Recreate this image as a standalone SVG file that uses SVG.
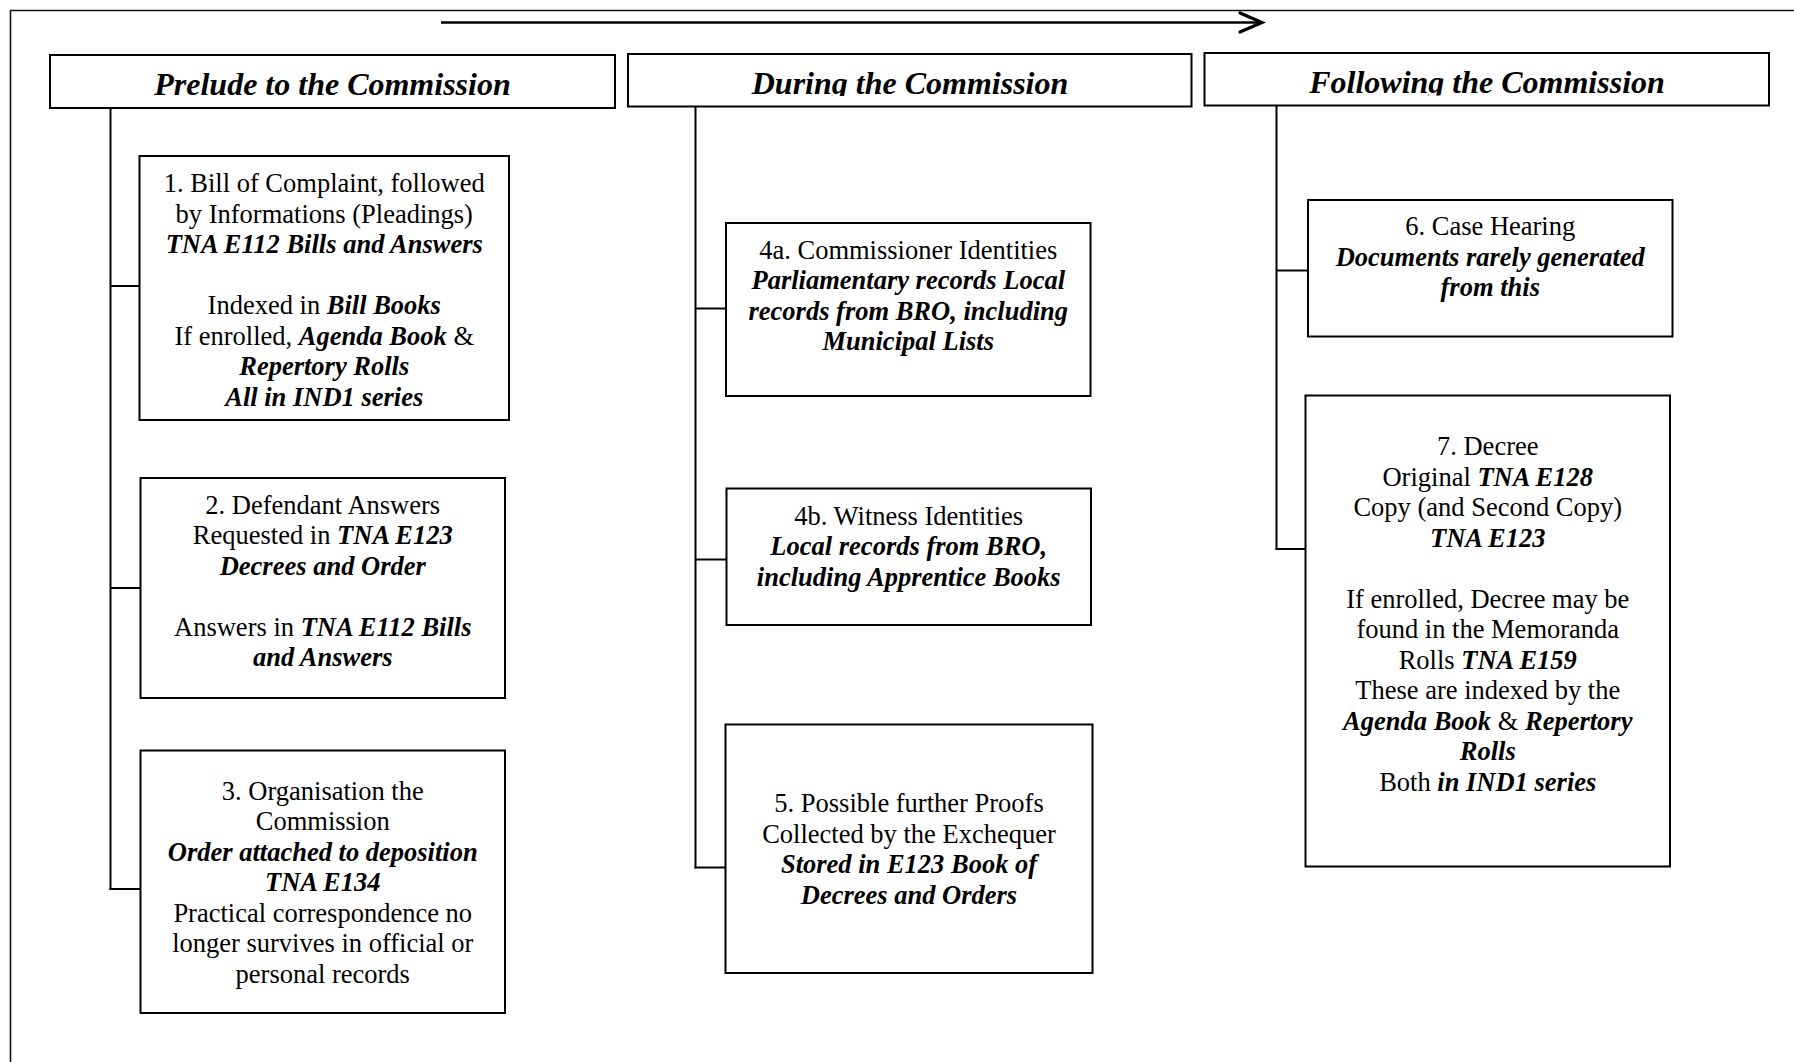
<svg xmlns="http://www.w3.org/2000/svg" width="1794" height="1062" viewBox="0 0 1794 1062">
<style>
.frame{fill:none;stroke:#111;stroke-width:1.6}
.box{fill:#fff;stroke:#000;stroke-width:2}
.con{fill:none;stroke:#000;stroke-width:2}
.arr{fill:none;stroke:#000;stroke-width:2.6}
.ah{fill:none;stroke:#000;stroke-width:3.2;stroke-linecap:round;stroke-linejoin:miter}
text{font-family:"Liberation Serif","Times New Roman",serif;font-size:26.5px;fill:#000;text-anchor:middle}
.hd{font-size:32px;font-weight:bold;font-style:italic}
.bi{font-weight:bold;font-style:italic}
</style>
<defs>
<clipPath id="clipDuring"><rect x="628" y="54" width="564" height="42"/></clipPath>
<clipPath id="clipFollowing"><rect x="1204" y="53" width="565" height="42.5"/></clipPath>
</defs>
<rect width="1794" height="1062" fill="#fff"/>
<path class="frame" d="M10.5,1062 V10.5 H1794"/>

<g id="connectors">
<line class="arr" x1="441" y1="22.5" x2="1260" y2="22.5"/>
<polyline class="ah" points="1240,13 1262,22.5 1240,32"/>
<line class="con" x1="110.5" y1="108" x2="110.5" y2="890"/>
<line class="con" x1="110.5" y1="286" x2="139.5" y2="286"/>
<line class="con" x1="110.5" y1="588" x2="140.5" y2="588"/>
<line class="con" x1="109.5" y1="889" x2="140.5" y2="889"/>
<line class="con" x1="695.5" y1="106.5" x2="695.5" y2="868.5"/>
<line class="con" x1="695.5" y1="308.5" x2="726" y2="308.5"/>
<line class="con" x1="695.5" y1="559.5" x2="726.5" y2="559.5"/>
<line class="con" x1="694.5" y1="867.5" x2="725.5" y2="867.5"/>
<line class="con" x1="1276.5" y1="105.5" x2="1276.5" y2="550"/>
<line class="con" x1="1276.5" y1="270.5" x2="1308" y2="270.5"/>
<line class="con" x1="1275.5" y1="549" x2="1305.5" y2="549"/>
</g>

<g id="header-prelude">
<rect class="box" x="50" y="55" width="565" height="53"/>
<text class="hd" x="332.5" y="95">Prelude to the Commission</text>
</g>
<g id="header-during">
<rect class="box" x="628" y="54" width="563.5" height="52.5"/>
<text class="hd" x="910" y="93.5" clip-path="url(#clipDuring)">During the Commission</text>
</g>
<g id="header-following">
<rect class="box" x="1204.5" y="53" width="564.5" height="52.5"/>
<text class="hd" x="1487" y="93" clip-path="url(#clipFollowing)">Following the Commission</text>
</g>

<g id="node-1">
<rect class="box" x="139.5" y="156" width="369.5" height="264"/>
<text x="324.25" y="192">1. Bill of Complaint, followed</text>
<text x="324.25" y="222.5">by Informations (Pleadings)</text>
<text x="324.25" y="253" class="bi">TNA E112 Bills and Answers</text>
<text x="324.25" y="314">Indexed in <tspan class="bi">Bill Books</tspan></text>
<text x="324.25" y="344.5">If enrolled, <tspan class="bi">Agenda Book</tspan> &amp;</text>
<text x="324.25" y="375" class="bi">Repertory Rolls</text>
<text x="324.25" y="405.5" class="bi">All in IND1 series</text>
</g>

<g id="node-2">
<rect class="box" x="140.5" y="478" width="364.5" height="220"/>
<text x="322.75" y="513.5">2. Defendant Answers</text>
<text x="322.75" y="544">Requested in <tspan class="bi">TNA E123</tspan></text>
<text x="322.75" y="574.5" class="bi">Decrees and Order</text>
<text x="322.75" y="635.5">Answers in <tspan class="bi">TNA E112 Bills</tspan></text>
<text x="322.75" y="666" class="bi">and Answers</text>
</g>

<g id="node-3">
<rect class="box" x="140.5" y="750.5" width="364.5" height="262.5"/>
<text x="322.75" y="799.5">3. Organisation the</text>
<text x="322.75" y="830">Commission</text>
<text x="322.75" y="860.5" class="bi">Order attached to deposition</text>
<text x="322.75" y="891" class="bi">TNA E134</text>
<text x="322.75" y="921.5">Practical correspondence no</text>
<text x="322.75" y="952">longer survives in official or</text>
<text x="322.75" y="982.5">personal records</text>
</g>

<g id="node-4a">
<rect class="box" x="726" y="223" width="364.5" height="173"/>
<text x="908.25" y="258.5">4a. Commissioner Identities</text>
<text x="908.25" y="289" class="bi">Parliamentary records Local</text>
<text x="908.25" y="319.5" class="bi">records from BRO, including</text>
<text x="908.25" y="350" class="bi">Municipal Lists</text>
</g>

<g id="node-4b">
<rect class="box" x="726.5" y="488.5" width="364.5" height="136.5"/>
<text x="908.75" y="524.5">4b. Witness Identities</text>
<text x="908.75" y="555" class="bi">Local records from BRO,</text>
<text x="908.75" y="585.5" class="bi">including Apprentice Books</text>
</g>

<g id="node-5">
<rect class="box" x="725.5" y="724.5" width="367" height="248.5"/>
<text x="909" y="812">5. Possible further Proofs</text>
<text x="909" y="842.5">Collected by the Exchequer</text>
<text x="909" y="873" class="bi">Stored in E123 Book of</text>
<text x="909" y="903.5" class="bi">Decrees and Orders</text>
</g>

<g id="node-6">
<rect class="box" x="1308" y="200" width="364.5" height="136.5"/>
<text x="1490.25" y="235">6. Case Hearing</text>
<text x="1490.25" y="265.5" class="bi">Documents rarely generated</text>
<text x="1490.25" y="296" class="bi">from this</text>
</g>

<g id="node-7">
<rect class="box" x="1305.5" y="395.5" width="364.5" height="471"/>
<text x="1487.75" y="455">7. Decree</text>
<text x="1487.75" y="485.5">Original <tspan class="bi">TNA E128</tspan></text>
<text x="1487.75" y="516">Copy (and Second Copy)</text>
<text x="1487.75" y="546.5" class="bi">TNA E123</text>
<text x="1487.75" y="607.5">If enrolled, Decree may be</text>
<text x="1487.75" y="638">found in the Memoranda</text>
<text x="1487.75" y="668.5">Rolls <tspan class="bi">TNA E159</tspan></text>
<text x="1487.75" y="699">These are indexed by the</text>
<text x="1487.75" y="729.5"><tspan class="bi">Agenda Book</tspan> &amp; <tspan class="bi">Repertory</tspan></text>
<text x="1487.75" y="760" class="bi">Rolls</text>
<text x="1487.75" y="790.5">Both <tspan class="bi">in IND1 series</tspan></text>
</g>
</svg>
